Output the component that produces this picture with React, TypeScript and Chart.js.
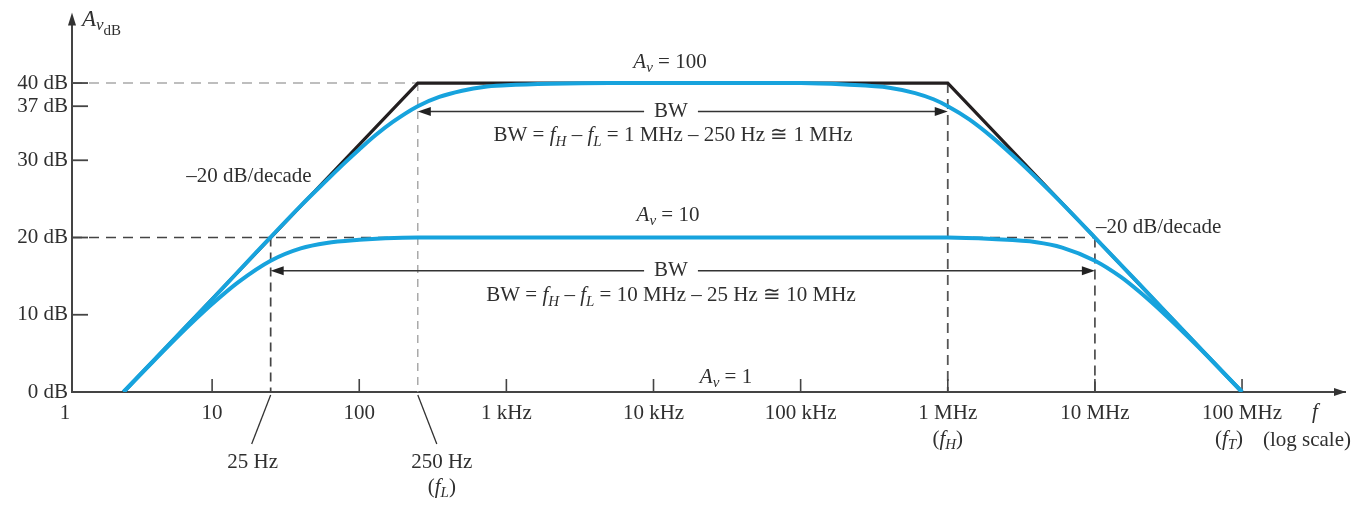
import React, { useEffect, useRef } from "react";
import { Chart, registerables } from "chart.js";

Chart.register(...registerables);

// Axis ticks
const xTickValues = [1, 10, 100, 1e3, 1e4, 1e5, 1e6, 1e7, 1e8];
const xTickLabels = ["1", "10", "100", "1 kHz", "10 kHz", "100 kHz", "1 MHz", "10 MHz", "100 MHz"];
const yTickValues = [0, 10, 20, 30, 37, 40];
const yTickLabels = ["0 dB", "10 dB", "20 dB", "30 dB", "37 dB", "40 dB"];

// Straight-line approximation for A_v = 100 (Hz, dB)
const asymFreq = [2.5, 250, 1e6, 1e8];
const asymDb = [0, 40, 40, 0];

// Actual response, A_v = 100 (f_L = 250 Hz, f_H = 1 MHz)
const av100Freq = [2.5, 5, 10, 20, 40, 60, 80, 100, 130, 170, 250, 350, 500, 700, 1000, 2000, 5000, 1e5, 2e5, 4e5, 6e5, 8e5, 1e6, 1.4e6, 2e6, 3e6, 5e6, 1e7, 2e7, 5e7, 1e8];
const av100Db = [0, 6, 12, 18.1, 24.1, 27.4, 29.7, 31.4, 33.3, 35, 37, 38.2, 39, 39.5, 39.7, 39.9, 40, 40, 39.8, 39.4, 38.7, 37.9, 37, 35.3, 33, 30, 25.9, 20, 14, 6, 0];

// Actual response, A_v = 10 (f_L = 25 Hz, f_H = 10 MHz)
const av10Freq = [2.5, 4, 6, 8, 10, 15, 25, 40, 60, 100, 150, 250, 500, 1e6, 2e6, 4e6, 6e6, 1e7, 1.5e7, 2e7, 3e7, 5e7, 1e8];
const av10Db = [0, 4, 7.4, 9.7, 11.4, 14.2, 17, 18.6, 19.3, 19.7, 19.9, 20, 20, 20, 19.8, 19.4, 18.7, 17, 14.9, 13, 10, 5.9, 0];

const FONT = '"Liberation Serif", "DejaVu Serif", "Times New Roman", serif';
const INK = "#2f2f2f";
const BLUE = "#17a3dd";
const MID_X = 671;

type Seg = { t: string; it?: boolean; sub?: number; size?: number };

const segFont = (s: Seg) => {
  const size = s.size ?? (s.sub === 1 ? 15 : s.sub === 2 ? 13 : 21);
  return `${s.it ? "italic " : ""}${size}px ${FONT}`;
};
const segDy = (s: Seg) => (s.sub === 1 ? 6 : s.sub === 2 ? 11 : 0);

function richWidth(ctx: CanvasRenderingContext2D, segs: Seg[]) {
  let w = 0;
  for (const s of segs) {
    ctx.font = segFont(s);
    w += ctx.measureText(s.t).width;
  }
  return w;
}

function drawRich(ctx: CanvasRenderingContext2D, segs: Seg[], x: number, y: number, align: "left" | "center" | "right" = "center") {
  const w = richWidth(ctx, segs);
  let cx = align === "center" ? x - w / 2 : align === "right" ? x - w : x;
  ctx.save();
  ctx.fillStyle = INK;
  ctx.textAlign = "left";
  ctx.textBaseline = "middle";
  for (const s of segs) {
    ctx.font = segFont(s);
    ctx.fillText(s.t, cx, y + segDy(s));
    cx += ctx.measureText(s.t).width;
  }
  ctx.restore();
  return w;
}

function line(ctx: CanvasRenderingContext2D, x1: number, y1: number, x2: number, y2: number, color: string, width: number, dash: number[] = []) {
  ctx.save();
  ctx.strokeStyle = color;
  ctx.lineWidth = width;
  ctx.setLineDash(dash);
  ctx.beginPath();
  ctx.moveTo(x1, y1);
  ctx.lineTo(x2, y2);
  ctx.stroke();
  ctx.restore();
}

function tri(ctx: CanvasRenderingContext2D, pts: number[][], color: string) {
  ctx.save();
  ctx.fillStyle = color;
  ctx.beginPath();
  ctx.moveTo(pts[0][0], pts[0][1]);
  for (let i = 1; i < pts.length; i++) ctx.lineTo(pts[i][0], pts[i][1]);
  ctx.closePath();
  ctx.fill();
  ctx.restore();
}

function bwArrow(ctx: CanvasRenderingContext2D, x1: number, x2: number, y: number) {
  ctx.font = `21px ${FONT}`;
  const tw = ctx.measureText("BW").width;
  const g1 = MID_X - tw / 2 - 10;
  const g2 = MID_X + tw / 2 + 10;
  line(ctx, x1 + 6, y, g1, y, "#333", 1.5);
  line(ctx, g2, y, x2 - 6, y, "#333", 1.5);
  tri(ctx, [[x1, y], [x1 + 13, y - 4.5], [x1 + 13, y + 4.5]], "#222");
  tri(ctx, [[x2, y], [x2 - 13, y - 4.5], [x2 - 13, y + 4.5]], "#222");
  drawRich(ctx, [{ t: "BW" }], MID_X, y);
}

const notes = {
  id: "bodeNotes",
  beforeDatasetsDraw(chart: any) {
    const ctx: CanvasRenderingContext2D = chart.ctx;
    const xs = chart.scales.x;
    const ys = chart.scales.y;
    const X = (v: number) => xs.getPixelForValue(v);
    const Y = (v: number) => ys.getPixelForValue(v);
    const { left, right, top, bottom } = chart.chartArea;

    // guide lines
    line(ctx, left, Y(40), X(250), Y(40), "#a9a9a9", 1.5, [10, 7]);
    line(ctx, X(250), Y(40), X(250), bottom, "#9c9c9c", 1.3, [8, 6]);
    line(ctx, left, Y(20), X(1e7), Y(20), "#444", 1.6, [10, 7]);
    line(ctx, X(25), Y(20), X(25), bottom, "#444", 1.7, [9, 6]);
    line(ctx, X(1e6), Y(40), X(1e6), bottom, "#555", 1.8, [10, 6]);
    line(ctx, X(1e7), Y(20), X(1e7), bottom, "#555", 1.8, [10, 6]);

    // tick marks pointing into the plot
    for (const v of xTickValues.slice(1)) line(ctx, X(v), bottom, X(v), bottom - 13, "#444", 1.6);
    for (const v of yTickValues.slice(1)) line(ctx, left, Y(v), left + 16, Y(v), "#444", 1.8);

    // axis arrowheads
    tri(ctx, [[left, top - 4], [left - 4, top + 9], [left + 4, top + 9]], "#333");
    tri(ctx, [[right + 1, bottom], [right - 11, bottom - 4], [right - 11, bottom + 4]], "#333");
  },
  afterDatasetsDraw(chart: any) {
    const ctx: CanvasRenderingContext2D = chart.ctx;
    const xs = chart.scales.x;
    const ys = chart.scales.y;
    const X = (v: number) => xs.getPixelForValue(v);
    const Y = (v: number) => ys.getPixelForValue(v);
    const { left, bottom } = chart.chartArea;

    // axis titles
    drawRich(ctx, [{ t: "A", it: true, size: 23 }, { t: "v", it: true, sub: 1, size: 17 }, { t: "dB", sub: 2, size: 15 }], left + 10, 20, "left");
    drawRich(ctx, [{ t: "f", it: true }], 1315, 412);
    drawRich(ctx, [{ t: "(log scale)" }], 1307, 440);

    // gain labels
    drawRich(ctx, [{ t: "A", it: true }, { t: "v", it: true, sub: 1 }, { t: " = 100" }], MID_X - 1, 62);
    drawRich(ctx, [{ t: "A", it: true }, { t: "v", it: true, sub: 1 }, { t: " = 10" }], MID_X - 3, 215);
    drawRich(ctx, [{ t: "A", it: true }, { t: "v", it: true, sub: 1 }, { t: " = 1" }], 726, 377);

    // bandwidth arrows and formulas
    const yBw1 = Y(36.3);
    bwArrow(ctx, X(250), X(1e6), yBw1);
    drawRich(ctx, [
      { t: "BW = " }, { t: "f", it: true }, { t: "H", it: true, sub: 1 }, { t: " \u2013 " },
      { t: "f", it: true }, { t: "L", it: true, sub: 1 }, { t: " = 1 MHz \u2013 250 Hz \u2245 1 MHz" },
    ], MID_X + 2, yBw1 + 24);

    const yBw2 = Y(15.7);
    bwArrow(ctx, X(25), X(1e7), yBw2);
    drawRich(ctx, [
      { t: "BW = " }, { t: "f", it: true }, { t: "H", it: true, sub: 1 }, { t: " \u2013 " },
      { t: "f", it: true }, { t: "L", it: true, sub: 1 }, { t: " = 10 MHz \u2013 25 Hz \u2245 10 MHz" },
    ], MID_X, yBw2 + 25);

    // slope notes
    drawRich(ctx, [{ t: "\u201320 dB/decade" }], X(25) + 41, 176, "right");
    drawRich(ctx, [{ t: "\u201320 dB/decade" }], X(1e7) + 1, 227, "left");

    // corner-frequency call-outs
    line(ctx, X(25), bottom + 3, X(25) - 19, bottom + 52, "#333", 1.3);
    drawRich(ctx, [{ t: "25 Hz" }], X(25) - 18, 462);
    line(ctx, X(250), bottom + 3, X(250) + 19, bottom + 52, "#333", 1.3);
    drawRich(ctx, [{ t: "250 Hz" }], X(250) + 24, 462);
    drawRich(ctx, [{ t: "(" }, { t: "f", it: true }, { t: "L", it: true, sub: 1 }, { t: ")" }], X(250) + 24, 487);
    drawRich(ctx, [{ t: "(" }, { t: "f", it: true }, { t: "H", it: true, sub: 1 }, { t: ")" }], X(1e6), 439);
    drawRich(ctx, [{ t: "(" }, { t: "f", it: true }, { t: "T", it: true, sub: 1 }, { t: ")" }], X(1e8) - 13, 439);
  },
};

const toPoints = (fs: number[], ds: number[]) => fs.map((f, i) => ({ x: f, y: ds[i] }));

export default function App() {
  const ref = useRef<HTMLCanvasElement | null>(null);

  useEffect(() => {
    document.body.style.margin = "0";
    const canvas = ref.current;
    if (!canvas) return;
    const tickFont = { family: FONT, size: 21 };
    const chart = new Chart(canvas, {
      type: "line",
      data: {
        datasets: [
          {
            label: "A_v = 10",
            data: toPoints(av10Freq, av10Db),
            borderColor: BLUE,
            borderWidth: 4,
            pointRadius: 0,
            cubicInterpolationMode: "monotone",
          },
          {
            label: "A_v = 100",
            data: toPoints(av100Freq, av100Db),
            borderColor: BLUE,
            borderWidth: 4,
            pointRadius: 0,
            cubicInterpolationMode: "monotone",
          },
          {
            label: "asymptotes",
            data: toPoints(asymFreq, asymDb),
            borderColor: "#231f20",
            borderWidth: 3.2,
            pointRadius: 0,
            tension: 0,
          },
        ],
      },
      options: {
        animation: false,
        responsive: false,
        devicePixelRatio: 1,
        layout: { padding: { top: 14, right: 19, bottom: 0, left: 0 } },
        plugins: { legend: { display: false }, tooltip: { enabled: false } },
        scales: {
          x: {
            type: "logarithmic",
            min: 1.116,
            max: 5.01e8,
            grid: { display: false, drawTicks: false },
            border: { display: true, color: "#444", width: 2 },
            afterBuildTicks: (scale: any) => {
              scale.ticks = xTickValues.map((v) => ({ value: v }));
            },
            afterFit: (scale: any) => {
              scale.height = 113;
            },
            ticks: {
              autoSkip: false,
              maxRotation: 0,
              padding: 9,
              color: INK,
              font: tickFont,
              callback: (v: any) => {
                const i = xTickValues.indexOf(Number(v));
                return i >= 0 ? xTickLabels[i] : "";
              },
            },
          },
          y: {
            type: "linear",
            min: 0,
            max: 48.6,
            grid: { display: false, drawTicks: false },
            border: { display: true, color: "#444", width: 2 },
            afterBuildTicks: (scale: any) => {
              scale.ticks = yTickValues.map((v) => ({ value: v }));
            },
            afterFit: (scale: any) => {
              scale.width = 72;
            },
            ticks: {
              padding: 4,
              color: INK,
              font: tickFont,
              callback: (v: any) => {
                const i = yTickValues.indexOf(Number(v));
                return i >= 0 ? yTickLabels[i] : "";
              },
            },
          },
        },
      },
      plugins: [notes],
    } as any);
    return () => chart.destroy();
  }, []);

  return (
    <div style={{ width: 1364, height: 505, background: "#fff" }}>
      <canvas ref={ref} width={1364} height={505} style={{ display: "block" }} />
    </div>
  );
}
